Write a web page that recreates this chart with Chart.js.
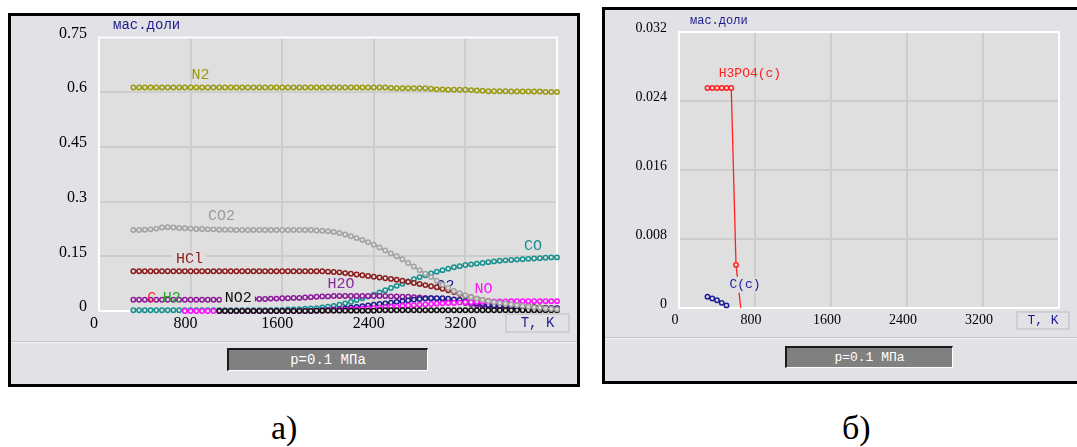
<!DOCTYPE html>
<html>
<head>
<meta charset="utf-8">
<script src="https://cdn.jsdelivr.net/npm/chart.js@4.4.1/dist/chart.umd.min.js"></script>
<style>
body{margin:0;background:#fff;width:1077px;height:447px;overflow:hidden;position:relative}
.panel{position:absolute;border:3px solid #000;background:#e2e2e6;box-sizing:border-box}
#pa{left:8px;top:13px;width:572px;height:374px}
#pb{left:602px;top:7px;width:480px;height:377px}
canvas{position:absolute;left:0;top:0}
.sep{position:absolute;left:0;right:0;height:1px;background:#c6c6ca;border-bottom:1px solid #f4f4f6}
.pbox{position:absolute;background:#808080;border-top:2px solid #1a1a1a;border-left:2px solid #1a1a1a;border-right:1px solid #fff;border-bottom:1px solid #fff;color:#fff;text-align:center;box-sizing:border-box;font-family:'Liberation Mono',monospace}
.tk{position:absolute;border:2px solid #cfcfd3;color:#1c1c8c;text-align:center;box-sizing:border-box;font-family:'Liberation Mono',monospace}
.unit{position:absolute;color:#1c1c8c;font-family:'Liberation Mono',monospace;white-space:nowrap}
.cap{position:absolute;font-family:'Liberation Serif',serif;font-size:34px;line-height:34px;color:#000}
</style>
</head>
<body>

<div class="panel" id="pa">
  <canvas id="chartA" width="566" height="368"></canvas>
  <div class="unit" style="left:102px;top:1px;font-size:14px">мас.доли</div>
  <div class="tk" style="left:494px;top:297px;width:65px;height:20px;font-size:14px;line-height:16px">T, K</div>
  <div class="sep" style="top:325px"></div>
  <div class="pbox" style="left:216px;top:332px;width:201px;height:23px;font-size:14px;line-height:20px">p=0.1 МПа</div>
</div>

<div class="panel" id="pb">
  <canvas id="chartB" width="472" height="371"></canvas>
  <div class="unit" style="left:85px;top:4px;font-size:12px">мас.доли</div>
  <div class="tk" style="left:411px;top:301px;width:54px;height:19px;font-size:13px;line-height:15px">T, K</div>
  <div class="sep" style="top:327px"></div>
  <div class="pbox" style="left:180px;top:336px;width:168px;height:22px;font-size:13px;line-height:19px">p=0.1 МПа</div>
</div>

<div class="cap" style="left:271px;top:411px">а)</div>
<div class="cap" style="left:842px;top:411px">б)</div>

<script>
// ---- chart a) : T, K (step 50 K) ----
var tempsA = [300,350,400,450,500,550,600,650,700,750,
  800,850,900,950,1000,1050,1100,1150,1200,1250,
  1300,1350,1400,1450,1500,1550,1600,1650,1700,1750,
  1800,1850,1900,1950,2000,2050,2100,2150,2200,2250,
  2300,2350,2400,2450,2500,2550,2600,2650,2700,2750,
  2800,2850,2900,2950,3000,3050,3100,3150,3200,3250,
  3300,3350,3400,3450,3500,3550,3600,3650,3700,3750,
  3800,3850,3900,3950,4000];

var n2 = [0.613,0.613,0.613,0.613,0.613,0.613,0.613,0.613,0.613,0.613,
  0.613,0.613,0.613,0.613,0.613,0.613,0.613,0.613,0.613,0.613,
  0.613,0.613,0.613,0.613,0.613,0.613,0.613,0.613,0.613,0.613,
  0.613,0.613,0.613,0.613,0.613,0.613,0.613,0.613,0.613,0.613,
  0.613,0.613,0.613,0.613,0.613,0.612,0.611,0.611,0.611,0.611,
  0.611,0.611,0.610,0.608,0.608,0.607,0.607,0.607,0.607,0.606,
  0.605,0.604,0.603,0.603,0.603,0.603,0.602,0.602,0.602,0.602,
  0.602,0.602,0.601,0.601,0.601];

var co2 = [0.222,0.222,0.223,0.224,0.226,0.229,0.230,0.229,0.228,0.227,
  0.226,0.225,0.225,0.224,0.224,0.223,0.223,0.223,0.222,0.222,
  0.222,0.222,0.222,0.222,0.222,0.222,0.222,0.222,0.222,0.222,
  0.222,0.222,0.221,0.220,0.219,0.217,0.214,0.210,0.205,0.200,
  0.195,0.189,0.182,0.174,0.166,0.158,0.150,0.142,0.132,0.122,
  0.112,0.102,0.093,0.083,0.072,0.063,0.055,0.049,0.043,0.038,
  0.034,0.030,0.027,0.024,0.022,0.020,0.018,0.016,0.014,0.012,
  0.010,0.009,0.007,0.006,0.005];

var hcl = [0.109,0.109,0.109,0.109,0.109,0.109,0.109,0.109,0.109,0.109,
  0.109,0.109,0.109,0.109,0.109,0.109,0.109,0.109,0.109,0.109,
  0.109,0.109,0.109,0.109,0.109,0.109,0.109,0.109,0.109,0.109,
  0.109,0.109,0.109,0.109,0.108,0.107,0.106,0.104,0.102,0.100,
  0.098,0.096,0.094,0.092,0.090,0.088,0.086,0.083,0.080,0.077,
  0.074,0.071,0.068,0.065,0.061,0.057,0.052,0.047,0.042,0.038,
  0.034,0.030,0.027,0.024,0.021,0.019,0.017,0.015,0.013,0.012,
  0.011,0.010,0.009,0.008,0.008];

var co = [0.002,0.002,0.002,0.002,0.002,0.002,0.002,0.002,0.002,0.002,
  0.002,0.002,0.002,0.002,0.002,0.002,0.002,0.002,0.002,0.002,
  0.002,0.002,0.002,0.002,0.002,0.003,0.003,0.004,0.004,0.005,
  0.006,0.007,0.008,0.010,0.012,0.014,0.017,0.021,0.025,0.030,
  0.035,0.040,0.045,0.051,0.057,0.063,0.069,0.075,0.081,0.087,
  0.093,0.098,0.103,0.108,0.112,0.116,0.120,0.123,0.126,0.128,
  0.130,0.132,0.134,0.136,0.138,0.139,0.140,0.141,0.142,0.143,
  0.144,0.145,0.146,0.147,0.147];

var h2o = [0.031,0.031,0.031,0.031,0.031,0.031,0.031,0.031,0.031,0.031,
  0.031,0.031,0.031,0.031,0.031,0.031,0.032,0.032,0.032,0.032,
  0.032,0.033,0.033,0.033,0.034,0.034,0.035,0.035,0.036,0.036,
  0.037,0.038,0.039,0.040,0.040,0.041,0.041,0.041,0.041,0.041,
  0.041,0.041,0.041,0.041,0.041,0.040,0.040,0.039,0.039,0.038,
  0.037,0.036,0.035,0.034,0.032,0.030,0.028,0.025,0.022,0.019,
  0.016,0.014,0.012,0.011,0.010,0.009,0.008,0.007,0.007,0.006,
  0.006,0.005,0.005,0.005,0.005];

var no = [null,null,null,null,null,null,null,null,null,0.000,
  0.000,0.000,0.000,0.000,0.000,0.000,0.000,0.000,0.000,0.000,
  0.000,0.000,0.000,0.000,0.000,0.000,0.000,0.000,0.000,0.000,
  0.000,0.000,0.001,0.001,0.002,0.002,0.003,0.003,0.004,0.005,
  0.006,0.007,0.008,0.009,0.010,0.011,0.012,0.014,0.015,0.016,
  0.017,0.018,0.019,0.020,0.021,0.022,0.022,0.023,0.024,0.024,
  0.025,0.025,0.026,0.026,0.026,0.026,0.027,0.027,0.027,0.027,
  0.027,0.027,0.027,0.027,0.027];

var no2 = [null,null,null,null,null,null,null,null,null,null,
  null,null,null,null,null,0.000,0.000,0.000,0.000,0.000,
  0.000,0.000,0.000,0.000,0.000,0.000,0.000,0.000,0.000,0.000,
  0.000,0.000,0.001,0.001,0.001,0.001,0.001,0.001,0.001,0.001,
  0.001,0.001,0.001,0.002,0.002,0.002,0.002,0.002,0.002,0.002,
  0.002,0.002,0.002,0.002,0.002,0.002,0.002,0.002,0.002,0.002,
  0.002,0.002,0.002,0.002,0.002,0.002,0.002,0.002,0.002,0.002,
  0.002,0.002,0.002,0.002,0.002];

var o2 = [null,null,null,null,null,null,null,null,null,null,
  null,null,null,null,null,null,null,null,null,null,
  null,null,null,null,null,null,null,null,null,null,
  null,null,0.001,0.002,0.003,0.004,0.005,0.007,0.009,0.011,
  0.013,0.015,0.017,0.019,0.021,0.023,0.025,0.027,0.029,0.031,
  0.033,0.034,0.035,0.035,0.035,0.034,0.032,0.030,0.027,0.024,
  0.021,0.019,0.017,0.015,0.014,0.013,0.012,0.011,0.010,0.010,
  0.009,0.009,0.008,0.008,0.008];

var xTicksA = [0,800,1600,2400,3200,4000];
var xTickLabelsA = ['0','800','1600','2400','3200',''];
var yTicksA = [0,0.15,0.3,0.45,0.6,0.75];
var yTickLabelsA = ['0','0.15','0.3','0.45','0.6','0.75'];

// ---- chart б) ----
var tempsB = [300,350,400,450,500,550,600,650];
var h3po4 = [0.0255,0.0255,0.0255,0.0255,0.0255,0.0255,0.005,0];
var carbon = [0.0013,0.0011,0.0009,0.0006,0.0003,null,null,null];

var xTicksB = [0,800,1600,2400,3200,4000];
var xTickLabelsB = ['0','800','1600','2400','3200',''];
var yTicksB = [0,0.008,0.016,0.024,0.032];
var yTickLabelsB = ['0','0.008','0.016','0.024','0.032'];

// curve labels: [text, T, value, colour, with background box, under curves]
var notesA = [
  ['N2', 887, 0.646, '#9a9a12', false, false],
  ['CO2', 1070, 0.26, '#9a9a9a', false, false],
  ['HCl', 791, 0.142, '#8c1c1c', true, false],
  ['C', 461, 0.036, '#ff2a2a', false, false],
  ['H2', 635, 0.036, '#22a822', false, false],
  ['NO2', 1217, 0.036, '#111111', true, false],
  ['H2O', 2113, 0.074, '#8a2a9c', false, false],
  ['O2', 3026, 0.068, '#1c1c8c', false, true],
  ['NO', 3357, 0.06, '#ff10ff', false, false],
  ['CO', 3791, 0.178, '#1a8c8c', false, false]
];
var notesB = [
  ['H3PO4(c)', 747, 0.0272, '#ff2020', false, false],
  ['C(c)', 695, 0.0027, '#1c1c9a', true, false]
];

var PLOT_BG = '#dfdfdf';

function drawNotes(chart, opts, under) {
  var ctx = chart.ctx, xs = chart.scales.x, ys = chart.scales.y;
  ctx.save();
  ctx.font = opts.font;
  ctx.textAlign = 'center';
  ctx.textBaseline = 'middle';
  opts.notes.forEach(function (n) {
    if (n[5] !== under) return;
    var px = xs.getPixelForValue(n[1]), py = ys.getPixelForValue(n[2]);
    if (n[4]) {
      var w = ctx.measureText(n[0]).width;
      ctx.fillStyle = PLOT_BG;
      ctx.fillRect(px - w / 2 - 3, py - 8, w + 6, 16);
    }
    ctx.fillStyle = n[3];
    ctx.fillText(n[0], px, py);
  });
  ctx.restore();
}

var plotFrame = {
  id: 'plotFrame',
  beforeDraw: function (chart) {
    var a = chart.chartArea, ctx = chart.ctx;
    ctx.save();
    ctx.fillStyle = PLOT_BG;
    ctx.fillRect(a.left, a.top, a.right - a.left, a.bottom - a.top);
    ctx.restore();
  },
  beforeDatasetsDraw: function (chart, args, opts) {
    var a = chart.chartArea, ctx = chart.ctx;
    ctx.save();
    ctx.strokeStyle = '#ffffff';
    ctx.lineWidth = 2;
    ctx.strokeRect(a.left, a.top, a.right - a.left, a.bottom - a.top);
    ctx.restore();
    drawNotes(chart, opts, true);
  },
  afterDatasetsDraw: function (chart, args, opts) {
    drawNotes(chart, opts, false);
  }
};

function series(label, data, color) {
  return {
    label: label,
    data: data,
    borderColor: color,
    backgroundColor: PLOT_BG,
    pointBackgroundColor: PLOT_BG,
    pointBorderColor: color,
    pointRadius: 2.2,
    pointBorderWidth: 1.5,
    borderWidth: 1.3,
    tension: 0,
    clip: false
  };
}

function axes(xTicks, xLabels, yTicks, yLabels, size, yWidth, xOff, xPad) {
  return {
    x: {
      type: 'linear', min: 0, max: 4000,
      afterBuildTicks: function (s) { s.ticks = xTicks.map(function (v) { return { value: v }; }); },
      afterFit: function (s) { s.height = 30; },
      grid: { color: '#cdcdcd', lineWidth: 2, drawTicks: false },
      border: { display: false },
      ticks: {
        callback: function (v, i) { return xLabels[i]; },
        font: { family: 'Liberation Serif', size: size },
        color: '#000', padding: xPad, labelOffset: xOff, maxRotation: 0, autoSkip: false
      }
    },
    y: {
      type: 'linear', min: yTicks[0], max: yTicks[yTicks.length - 1],
      afterBuildTicks: function (s) { s.ticks = yTicks.map(function (v) { return { value: v }; }); },
      afterFit: function (s) { s.width = yWidth; },
      grid: { color: '#cdcdcd', lineWidth: 2, drawTicks: false },
      border: { display: false },
      ticks: {
        callback: function (v, i) { return yLabels[i]; },
        font: { family: 'Liberation Serif', size: size },
        color: '#000', padding: 12, labelOffset: -4
      }
    }
  };
}

var chartA = new Chart(document.getElementById('chartA'), {
  type: 'line',
  data: {
    labels: tempsA,
    datasets: [
      series('CO2', co2, '#a2a2a2'),
      series('NO2', no2, '#111111'),
      series('NO', no, '#ff10ff'),
      series('O2', o2, '#1c1c8c'),
      series('H2O', h2o, '#8a1a9a'),
      series('HCl', hcl, '#8c1c1c'),
      series('CO', co, '#179090'),
      series('N2', n2, '#9a9a10')
    ]
  },
  options: {
    responsive: false,
    animation: false,
    layout: { padding: { left: 0, right: 20, top: 21, bottom: 43 } },
    plugins: {
      legend: { display: false },
      tooltip: { enabled: false },
      plotFrame: { notes: notesA, font: '15px "Liberation Mono"' }
    },
    scales: axes(xTicksA, xTickLabelsA, yTicksA, yTickLabelsA, 16, 88, -5, 3)
  },
  plugins: [plotFrame]
});

var chartB = new Chart(document.getElementById('chartB'), {
  type: 'line',
  data: {
    labels: tempsB,
    datasets: [
      series('C(c)', carbon, '#1c1c9a'),
      Object.assign(series('H3PO4(c)', h3po4, '#ff2020'), { pointRadius: [2.2, 2.2, 2.2, 2.2, 2.2, 2.2, 2.2, 0] })
    ]
  },
  options: {
    responsive: false,
    animation: false,
    layout: { padding: { left: 0, right: 18, top: 22, bottom: 43 } },
    plugins: {
      legend: { display: false },
      tooltip: { enabled: false },
      plotFrame: { notes: notesB, font: '13px "Liberation Mono"' }
    },
    scales: axes(xTicksB, xTickLabelsB, yTicksB, yTickLabelsB, 14, 74, -4, 4)
  },
  plugins: [plotFrame]
});
</script>
</body>
</html>
